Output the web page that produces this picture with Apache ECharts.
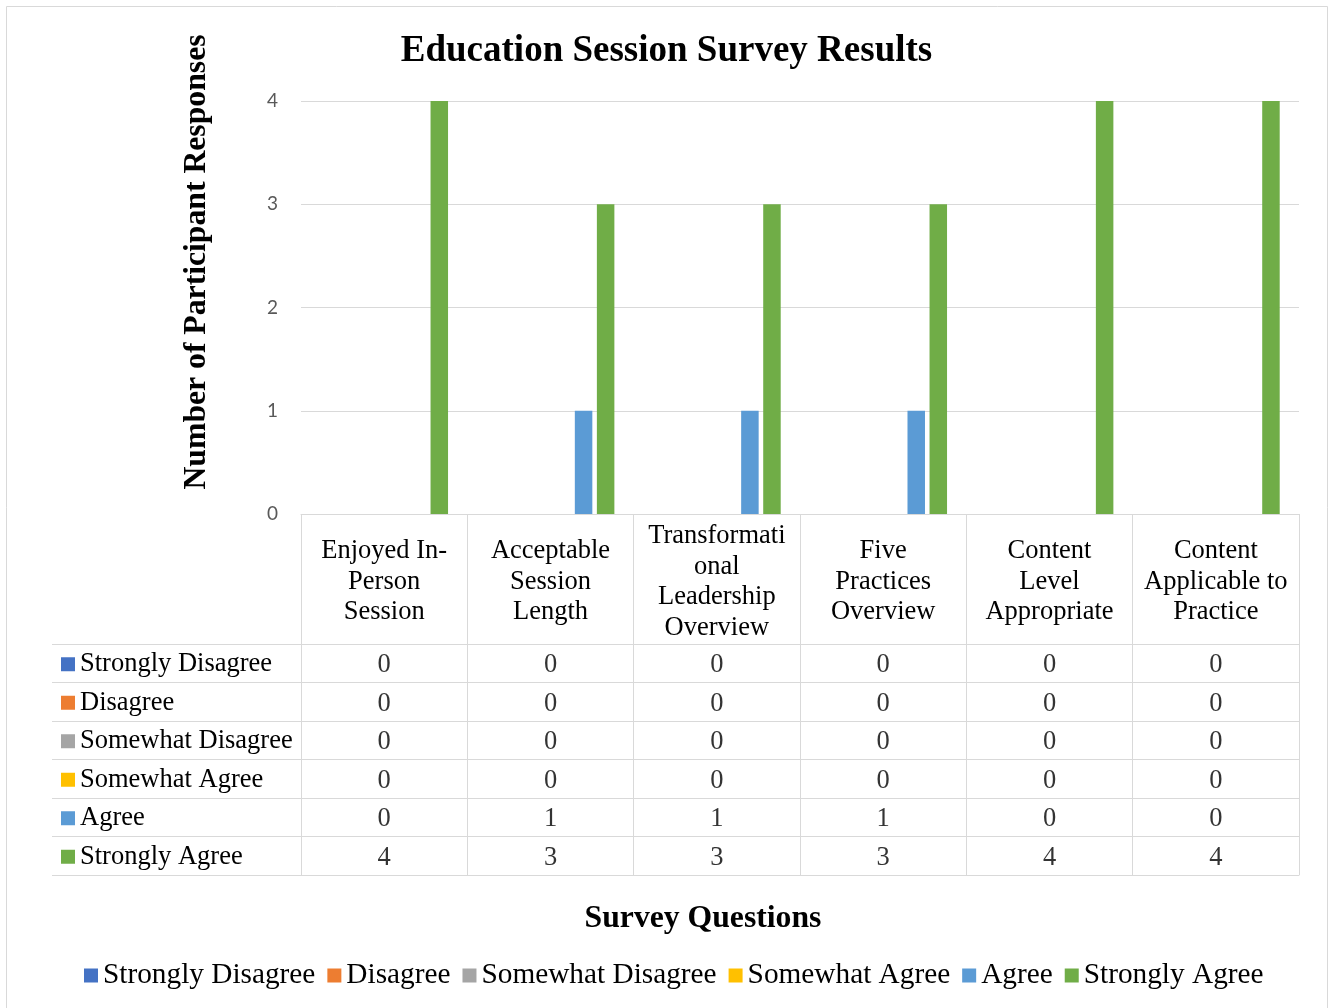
<!DOCTYPE html>
<html>
<head>
<meta charset="utf-8">
<script src="https://cdn.jsdelivr.net/npm/echarts@6/dist/echarts.min.js"></script>
<style>html,body{margin:0;padding:0;background:#fff}#c{width:1333px;height:1008px}</style>
</head>
<body>
<div id="c"></div>
<script>
const categories = ['Enjoyed In-\nPerson\nSession', 'Acceptable\nSession\nLength', 'Transformati\nonal\nLeadership\nOverview', 'Five\nPractices\nOverview', 'Content\nLevel\nAppropriate', 'Content\nApplicable to\nPractice'];
const seriesNames = ['Strongly Disagree', 'Disagree', 'Somewhat Disagree', 'Somewhat Agree', 'Agree', 'Strongly Agree'];
const stronglyDisagree = [0, 0, 0, 0, 0, 0];
const disagree = [0, 0, 0, 0, 0, 0];
const somewhatDisagree = [0, 0, 0, 0, 0, 0];
const somewhatAgree = [0, 0, 0, 0, 0, 0];
const agree = [0, 1, 1, 1, 0, 0];
const stronglyAgree = [4, 3, 3, 3, 4, 4];
const yMin = 0, yMax = 4, yInterval = 1;

const seriesValues = [stronglyDisagree, disagree, somewhatDisagree, somewhatAgree, agree, stronglyAgree];
const colors = ['#4472C4', '#ED7D31', '#A5A5A5', '#FFC000', '#5B9BD5', '#70AD47'];
const SERIF = '"Liberation Serif", "Times New Roman", serif';
const GRID_LINE = '#d9d9d9';

const rich = { t: { fontSize: 26.5, fontFamily: SERIF, color: '#000', padding: [0, 0, 0, 5] } };
colors.forEach((c, i) => { rich['s' + i] = { width: 14, height: 14, backgroundColor: c }; });

const tableData = [];
seriesValues.forEach((arr, si) => arr.forEach((v, ci) => tableData.push([ci, si, v])));

const barSeries = seriesNames.map((name, i) => ({
  name, type: 'bar', xAxisIndex: 0, yAxisIndex: 0,
  data: seriesValues[i], barWidth: 17.5, barGap: '26%',
  itemStyle: { color: colors[i] }
}));

const chart = echarts.init(document.getElementById('c'));
chart.setOption({
  animation: false,
  color: colors,
  title: {
    text: 'Education Session Survey Results', left: 'center', top: 33, padding: 0,
    textStyle: { fontFamily: SERIF, fontWeight: 'bold', fontSize: 37, color: '#000' }
  },
  legend: {
    data: seriesNames, bottom: 13, left: 79,
    icon: 'rect', itemWidth: 14, itemHeight: 14, itemGap: 12,
    textStyle: { fontFamily: SERIF, fontSize: 29.3, color: '#000' }
  },
  grid: [
    { left: 301, right: 34, top: 101, height: 413 },
    { left: 301, right: 34, top: 644, height: 231 }
  ],
  xAxis: [
    {
      type: 'category', gridIndex: 0, data: categories,
      axisLine: { show: true, lineStyle: { color: GRID_LINE, width: 1 } },
      axisTick: { show: true, length: 130, lineStyle: { color: GRID_LINE, width: 1 } },
      axisLabel: { interval: 0, margin: 68, verticalAlign: 'middle', fontFamily: SERIF, fontSize: 26.5, lineHeight: 30.5, color: '#000' },
      splitLine: { show: false }
    },
    {
      type: 'category', gridIndex: 1, data: categories,
      axisLine: { show: true, lineStyle: { color: GRID_LINE, width: 1 } },
      axisTick: { show: false }, axisLabel: { show: false },
      splitLine: { show: true, lineStyle: { color: GRID_LINE, width: 1 } }
    }
  ],
  yAxis: [
    {
      type: 'value', gridIndex: 0, min: yMin, max: yMax, interval: yInterval,
      axisLine: { show: false }, axisTick: { show: false },
      axisLabel: { margin: 23, fontFamily: 'Lato, "Open Sans", sans-serif', fontSize: 19, color: '#595959' },
      splitLine: { lineStyle: { color: GRID_LINE, width: 1 } }
    },
    {
      type: 'category', gridIndex: 1, data: seriesNames, inverse: true,
      axisLine: { show: true, lineStyle: { color: GRID_LINE, width: 1 } },
      axisTick: { show: true, length: 249, lineStyle: { color: GRID_LINE, width: 1 } },
      axisLabel: {
        align: 'left', margin: 240, padding: [2, 0, 0, 0],
        formatter: (val, idx) => '{s' + idx + '|}{t|' + val + '}',
        rich
      },
      splitLine: { show: true, lineStyle: { color: GRID_LINE, width: 1 } }
    },
    {
      type: 'category', gridIndex: 1, data: seriesNames, inverse: true, offset: 249,
      axisLine: { show: true, lineStyle: { color: GRID_LINE, width: 1 } },
      axisTick: { show: false }, axisLabel: { show: false }, splitLine: { show: false }
    }
  ],
  graphic: [
    { type: 'rect', silent: true, z: -10, shape: { x: 6.5, y: 6.5, width: 1321, height: 1020 }, style: { fill: 'none', stroke: GRID_LINE, lineWidth: 1 } },
    { type: 'text', x: 197, y: 262, rotation: Math.PI / 2, style: { text: 'Number of Participant Responses', fontFamily: SERIF, fontWeight: 'bold', fontSize: 31.7, fill: '#000', align: 'center', verticalAlign: 'middle' } },
    { type: 'text', x: 703, y: 919, style: { text: 'Survey Questions', fontFamily: SERIF, fontWeight: 'bold', fontSize: 31.7, fill: '#000', align: 'center', verticalAlign: 'middle' } }
  ],
  series: barSeries.concat([{
    name: 'table', type: 'scatter', xAxisIndex: 1, yAxisIndex: 1,
    data: tableData, symbol: 'rect', symbolSize: 1,
    itemStyle: { color: 'transparent' },
    label: { show: true, position: 'inside', offset: [0, 2], formatter: p => String(p.value[2]), fontFamily: SERIF, fontSize: 26.5, color: '#000' },
    silent: true
  }])
});
</script>
</body>
</html>
